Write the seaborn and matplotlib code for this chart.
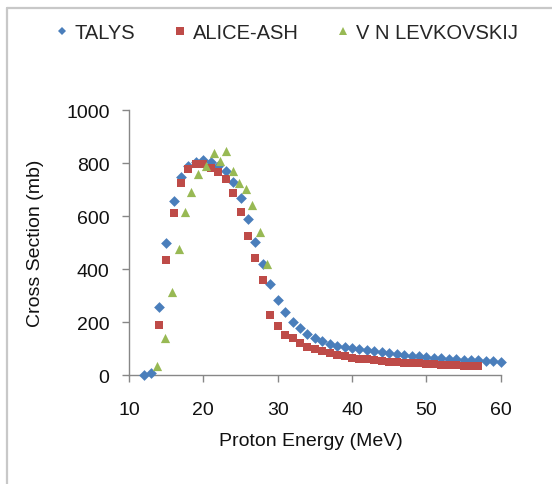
import numpy as np
import pandas as pd
import matplotlib
matplotlib.use("Agg")
import matplotlib.pyplot as plt
from matplotlib.lines import Line2D
import seaborn as sns

# Excitation function data
talys_energy = list(range(12, 61))
talys_cs = [0, 7, 255, 498, 658, 746, 790, 805, 811, 805, 790, 771, 728, 667, 589,
            501, 418, 344, 283, 236, 200, 176, 156, 140, 127, 118, 111, 106, 101,
            97, 93, 89, 86, 82, 78, 75, 73, 70, 68, 66, 63, 62, 60, 58, 57, 56,
            53, 52, 50]

alice_energy = list(range(14, 58))
alice_cs = [190, 435, 611, 725, 779, 796, 796, 781, 767, 740, 687, 616, 525, 442,
            359, 228, 185, 152, 140, 120, 107, 97, 89, 82, 75, 70, 65, 62, 59, 57,
            53, 50, 49, 46, 45, 44, 43, 41, 39, 38, 36, 35, 35, 34]

levk_energy = [13.75, 14.8, 15.8, 16.7, 17.5, 18.3, 19.3, 20.3, 21.4, 22.2, 23.0,
               24.0, 24.8, 25.7, 26.6, 27.6, 28.5]
levk_cs = [35, 138, 312, 475, 614, 689, 758, 790, 838, 806, 844, 771, 723, 702,
           643, 538, 419]

series_names = ["TALYS", "ALICE-ASH", "V N LEVKOVSKIJ"]
colors = {"TALYS": "#4A7EBB", "ALICE-ASH": "#BE4B48", "V N LEVKOVSKIJ": "#98B954"}
markers = {"TALYS": "D", "ALICE-ASH": "s", "V N LEVKOVSKIJ": "^"}
sizes = {"TALYS": 30, "ALICE-ASH": 40, "V N LEVKOVSKIJ": 44}

df = pd.concat([
    pd.DataFrame({"E": talys_energy, "CS": talys_cs, "Model": "TALYS"}),
    pd.DataFrame({"E": alice_energy, "CS": alice_cs, "Model": "ALICE-ASH"}),
    pd.DataFrame({"E": levk_energy, "CS": levk_cs, "Model": "V N LEVKOVSKIJ"}),
])

sns.set_style("white")
plt.rcParams["font.family"] = ["Liberation Sans", "DejaVu Sans"]

fig = plt.figure(figsize=(5.52, 4.85), dpi=100)
ax = fig.add_axes([0.2337, 0.2247, 0.6734, 0.5464])

for name in series_names:
    sub = df[df["Model"] == name]
    sns.scatterplot(data=sub, x="E", y="CS", ax=ax, color=colors[name],
                    marker=markers[name], s=sizes[name], linewidth=0,
                    label=name, legend=False, clip_on=False, zorder=3)

ax.set_xlim(10, 60)
ax.set_ylim(0, 1000)
ax.set_xticks(range(10, 61, 10))
ax.set_yticks(range(0, 1001, 200))

axis_grey = "#878787"
for side in ["top", "right"]:
    ax.spines[side].set_visible(False)
for side in ["left", "bottom"]:
    ax.spines[side].set_color(axis_grey)
    ax.spines[side].set_linewidth(1.0)

ax.tick_params(axis="x", direction="out", length=5, width=1, color=axis_grey,
               labelsize=14, pad=14, labelcolor="#111111", bottom=True)
ax.tick_params(axis="y", direction="out", length=5, width=1, color=axis_grey,
               labelsize=14, pad=9, labelcolor="#111111", left=True)

ax.set_xlabel("Proton Energy (MeV)", fontsize=14, color="#111111")
ax.set_ylabel("Cross Section (mb)", fontsize=14, color="#111111")
ax.xaxis.set_label_coords(0.49, -0.215)
ax.yaxis.set_label_coords(-0.228, 0.5)

handles = [Line2D([], [], linestyle="none", marker=markers[n], color=colors[n],
                  markersize={"TALYS": 4.5, "ALICE-ASH": 6, "V N LEVKOVSKIJ": 6}[n],
                  markeredgewidth=0)
           for n in series_names]
fig.legend(handles, series_names, loc="center", bbox_to_anchor=(0.52, 0.931),
           ncol=3, frameon=False, fontsize=14.5, handlelength=0.6,
           handletextpad=0.35, columnspacing=1.9)

# light frame around the chart area (top and left edges)
frame_col = "#c8c8c8"
fig.add_artist(Line2D([7 / 552, 1.0], [1 - 9 / 485, 1 - 9 / 485],
                      transform=fig.transFigure, color=frame_col, lw=1.6))
fig.add_artist(Line2D([7 / 552, 7 / 552], [0.0, 1 - 9 / 485],
                      transform=fig.transFigure, color=frame_col, lw=1.6))

fig.savefig("out.png", dpi=100, facecolor="white")
